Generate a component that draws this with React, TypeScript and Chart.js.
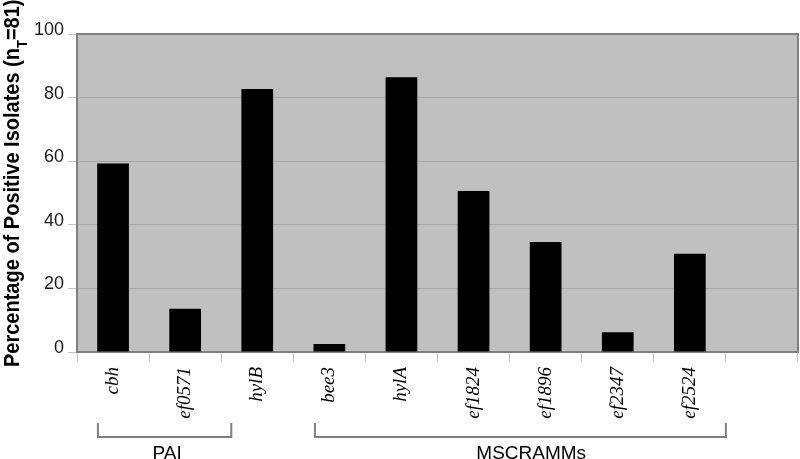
import React, { useEffect, useRef } from 'react';
import { Chart, registerables } from 'chart.js';

Chart.register(...registerables);

// ---- data ----
const categories = ['cbh', 'ef0571', 'hylB', 'bee3', 'hylA', 'ef1824', 'ef1896', 'ef2347', 'ef2524', ''];
const percentPositive: (number | null)[] = [59.3, 13.6, 82.7, 2.5, 86.4, 50.6, 34.6, 6.2, 30.9, null];
const yTickValues = [0, 20, 40, 60, 80, 100];
const groupLabels = ['PAI', 'MSCRAMMs'];
// bracket extents, in category-index units
const groupStart = [-0.21, 2.8];
const groupEnd = [1.64, 8.5];
const groupLabelAt = [0.75, 5.8];
const yTitleMain = 'Percentage of Positive Isolates (n';
const yTitleSub = 'T';
const yTitleEnd = '=81)';

const SANS = '"Liberation Sans", Arial, sans-serif';
const SERIF = '"Liberation Serif", "Times New Roman", serif';

const decorPlugin = {
  id: 'decor',
  beforeDraw(chart: any) {
    const { ctx, chartArea: a } = chart;
    ctx.save();
    ctx.fillStyle = '#c0c0c0';
    ctx.fillRect(a.left, a.top, a.right - a.left, a.bottom - a.top);
    ctx.restore();
  },
  afterDraw(chart: any) {
    const { ctx, chartArea: a } = chart;
    const xs = chart.scales.x;
    ctx.save();
    // frame (top and right)
    ctx.strokeStyle = '#808080';
    ctx.lineWidth = 2;
    ctx.beginPath();
    ctx.moveTo(a.left, a.top);
    ctx.lineTo(a.right, a.top);
    ctx.lineTo(a.right, a.bottom);
    ctx.stroke();

    // group brackets
    const lineY = 437;
    const capTop = 423;
    ctx.strokeStyle = '#7f7f7f';
    ctx.lineWidth = 2;
    ctx.fillStyle = '#000';
    ctx.font = `19px ${SANS}`;
    ctx.textAlign = 'center';
    ctx.textBaseline = 'alphabetic';
    groupLabels.forEach((lbl, i) => {
      const x0 = xs.getPixelForValue(groupStart[i]);
      const x1 = xs.getPixelForValue(groupEnd[i]);
      ctx.beginPath();
      ctx.moveTo(x0, capTop);
      ctx.lineTo(x0, lineY);
      ctx.lineTo(x1, lineY);
      ctx.lineTo(x1, capTop);
      ctx.stroke();
      const lx = xs.getPixelForValue(groupLabelAt[i]);
      ctx.fillText(lbl, lx, 459);
    });

    // y-axis title with subscript
    ctx.translate(18.5, 367);
    ctx.rotate(-Math.PI / 2);
    ctx.scale(1, 1.1);
    ctx.textAlign = 'left';
    ctx.fillStyle = '#000';
    ctx.font = `bold 20px ${SANS}`;
    ctx.fillText(yTitleMain, 0, 0);
    let w = ctx.measureText(yTitleMain).width;
    ctx.font = `bold 13px ${SANS}`;
    ctx.fillText(yTitleSub, w, 8);
    w += ctx.measureText(yTitleSub).width;
    ctx.font = `bold 20px ${SANS}`;
    ctx.fillText(yTitleEnd, w, 0);
    ctx.restore();
  },
};

export default function App() {
  const ref = useRef<HTMLCanvasElement>(null);
  useEffect(() => {
    if (!ref.current) return;
    const chart = new Chart(ref.current, {
      type: 'bar',
      data: {
        labels: categories,
        datasets: [
          {
            data: percentPositive,
            backgroundColor: '#000000',
            borderWidth: 0,
            barPercentage: 0.44,
            categoryPercentage: 1,
          },
        ],
      },
      options: {
        animation: false,
        responsive: true,
        maintainAspectRatio: false,
        layout: { padding: { left: 0, right: 2, top: 34, bottom: 0 } },
        plugins: {
          legend: { display: false },
          tooltip: { enabled: false },
          title: { display: false },
        },
        scales: {
          x: {
            offset: true,
            grid: {
              offset: true,
              drawOnChartArea: false,
              drawTicks: true,
              tickLength: 10,
              tickColor: '#c4c4c4',
              color: '#c4c4c4',
            },
            border: { display: true, color: '#808080', width: 2 },
            ticks: {
              autoSkip: false,
              maxRotation: 90,
              minRotation: 90,
              padding: 5,
              color: '#000',
              font: { family: SERIF, size: 19, style: 'italic' },
            },
            afterFit(scale: any) {
              scale.height = 107;
            },
          },
          y: {
            min: 0,
            max: 100,
            afterBuildTicks(scale: any) {
              scale.ticks = yTickValues.map((v) => ({ value: v }));
            },
            grid: {
              color: '#a8a8a8',
              tickColor: '#c4c4c4',
              tickLength: 9,
              lineWidth: 1,
            },
            border: { display: true, color: '#808080', width: 2 },
            ticks: {
              padding: 4,
              labelOffset: -4,
              color: '#1a1a1a',
              font: { family: SANS, size: 18 },
            },
            afterFit(scale: any) {
              scale.width = 77;
            },
          },
        },
      },
      plugins: [decorPlugin],
    });
    return () => chart.destroy();
  }, []);
  return (
    <div style={{ position: 'absolute', left: 0, top: 0, width: 800, height: 459 }}>
      <canvas ref={ref} />
    </div>
  );
}
